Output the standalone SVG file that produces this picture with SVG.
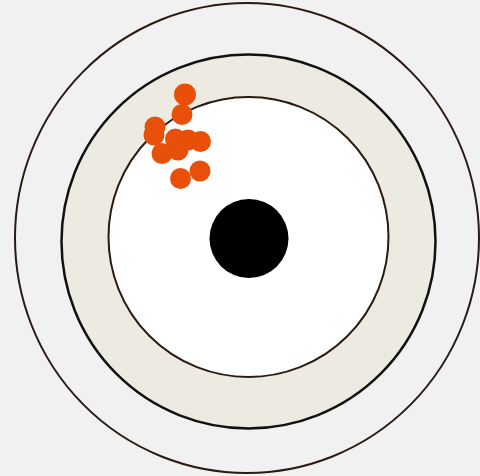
<svg xmlns="http://www.w3.org/2000/svg" width="480" height="476" viewBox="0 0 480 476">
<style>
.ring{stroke:#2b1a12;stroke-width:2}
.hit{fill:#e8500a}
</style>
<rect width="480" height="476" fill="#f1f1f1"/>
<g id="target">
<ellipse cx="247" cy="238" rx="232" ry="235" fill="#f1f1f1" class="ring"/>
<circle cx="248.5" cy="241.5" r="187" fill="#edebe1" stroke="#111" stroke-width="2.5"/>
<circle cx="248.5" cy="237" r="140" fill="#ffffff" class="ring"/>
<circle cx="249" cy="238.5" r="39.5" fill="#000"/>
</g>
<g id="hits">
<circle class="hit" cx="185" cy="94.5" r="11"/>
<circle class="hit" cx="182" cy="114.5" r="10.5"/>
<circle class="hit" cx="155" cy="127" r="10.5"/>
<circle class="hit" cx="154" cy="135" r="10.5"/>
<circle class="hit" cx="175.5" cy="139" r="10.5"/>
<circle class="hit" cx="188" cy="140" r="10.5"/>
<circle class="hit" cx="200.5" cy="141.5" r="10.5"/>
<circle class="hit" cx="162" cy="153.5" r="10.5"/>
<circle class="hit" cx="178" cy="150" r="10.5"/>
<circle class="hit" cx="200" cy="171" r="10.5"/>
<circle class="hit" cx="180.5" cy="178.5" r="10.5"/>
</g>
</svg>
